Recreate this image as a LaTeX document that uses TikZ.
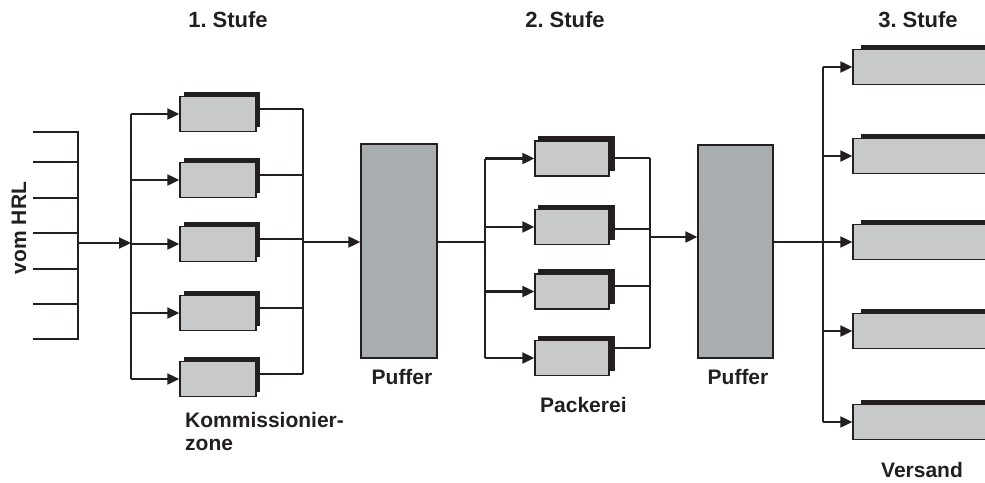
\documentclass[tikz,border=0pt]{standalone}
\usepackage{fontspec}
\setmainfont{Liberation Sans}
\usetikzlibrary{arrows.meta}
\definecolor{ink}{HTML}{231F20}
\definecolor{boxfill}{HTML}{C8C9CB}
\definecolor{buffill}{HTML}{AAADB0}
\tikzset{
  ln/.style={draw=ink, line width=2.2pt},
  arr/.style={ln, -{Triangle[length=12pt,width=11pt]}},
  front/.style={draw=ink, line width=1.4pt, fill=boxfill, rectangle, inner sep=0pt},
  shade/.style={fill=ink, rectangle, inner sep=0pt},
  buf/.style={draw=ink, line width=1.4pt, fill=buffill, rectangle, inner sep=0pt, minimum width=76pt, minimum height=214pt},
  lbl/.style={font=\frenchspacing\bfseries\fontsize{21}{23}\selectfont, text=ink, inner sep=0pt},
  ttl/.style={font=\frenchspacing\bfseries\fontsize{22}{24}\selectfont, text=ink, inner sep=0pt}
}
\begin{document}
\begin{tikzpicture}[x=1pt,y=-1pt]
\useasboundingbox (0,0) rectangle (985,482);
\clip (0,0) rectangle (985,482);
% titles
\node[ttl, anchor=base] (t1) at (228,27) {1. Stufe};
\node[ttl, anchor=base] (t2) at (565,27) {2. Stufe};
\node[ttl, anchor=base] (t3) at (918,27) {3. Stufe};
% vom HRL
\node[lbl, rotate=90] (hrl) at (19,228) {vom HRL};
\foreach \i/\y in {1/132,2/162,3/198,4/233,5/269,6/304,7/339}{
  \coordinate (h\i) at (33,\y);
  \draw[ln] (h\i) -- (78,\y);
}
\coordinate (busT) at (78,131);
\coordinate (busB) at (78,340);
\draw[ln] (busT) -- (busB);
\coordinate (hout) at (78,243);
% stage 1 boxes
\foreach \i/\y in {1/114,2/180,3/244,4/313,5/379}{
  \node[shade, minimum width=76pt, minimum height=35pt] (s1\i) at (222,\y-5) {};
  \node[front, minimum width=76pt, minimum height=35pt] (b1\i) at (218,\y) {};
}
\coordinate (j1) at (131,243);
\draw[arr] (hout) -- (j1);
\draw[ln] (j1 |- b11.west) -- (j1 |- b15.west);
\foreach \i in {1,...,5}{
  \draw[arr] (j1 |- b1\i.west) -- (b1\i.west);
}
\coordinate (c1) at (303,242);
\foreach \i in {1,...,5}{
  \draw[ln] (s1\i.east) -- (s1\i.east -| c1);
}
\draw[ln] (c1 |- s11.east) -- (c1 |- s15.east);
% Puffer 1
\node[buf] (p1) at (399,251) {};
\draw[arr] (c1) -- (c1 -| p1.west);
\node[lbl, anchor=base] (pl1) at (402,384) {Puffer};
% stage 2 boxes
\foreach \i/\y in {1/158.5,2/227,3/291.5,4/358}{
  \node[shade, minimum width=77pt, minimum height=35pt] (s2\i) at (576.5,\y-5) {};
  \node[front, minimum width=74pt, minimum height=35pt] (b2\i) at (572,\y) {};
}
\coordinate (p1out) at (437,242);
\coordinate (c2) at (485,242);
\draw[ln] (p1out) -- (c2);
\draw[ln] (c2 |- b21.west) -- (c2 |- b24.west);
\foreach \i in {1,...,4}{
  \draw[arr] (c2 |- b2\i.west) -- (b2\i.west);
}
\coordinate (d2) at (650,237);
\foreach \i/\y in {1/158,2/229,3/286,4/348}{
  \draw[ln] (s2\i.east |- 0,\y) -- (d2 |- 0,\y);
}
\draw[ln] (d2 |- 0,158) -- (d2 |- 0,348);
\node[lbl, anchor=base west] (pack) at (540,412) {Packerei};
% Puffer 2
\node[buf, minimum width=75pt, minimum height=213pt] (p2) at (735.5,251.5) {};
\draw[arr] (d2) -- (d2 -| p2.west);
\node[lbl, anchor=base] (pl2) at (738,384) {Puffer};
% stage 3 boxes
\foreach \i/\y in {1/67,2/156,3/242,4/331,5/422}{
  \node[shade, minimum width=200pt, minimum height=35pt] (s3\i) at (961,\y-5) {};
  \node[front, minimum width=200pt, minimum height=35pt] (b3\i) at (953,\y) {};
}
\coordinate (p2out) at (773,242);
\coordinate (c3) at (823,242);
\draw[ln] (p2out) -- (c3);
\draw[ln] (c3 |- b31.west) -- (c3 |- b35.west);
\foreach \i in {1,...,5}{
  \draw[arr] (c3 |- b3\i.west) -- (b3\i.west);
}
% labels
\node[lbl, anchor=base west, align=left] (komm) at (185,450) {Kommissionier-\\zone};
\node[lbl, anchor=base] (vers) at (922,477) {Versand};
\end{tikzpicture}
\end{document}
